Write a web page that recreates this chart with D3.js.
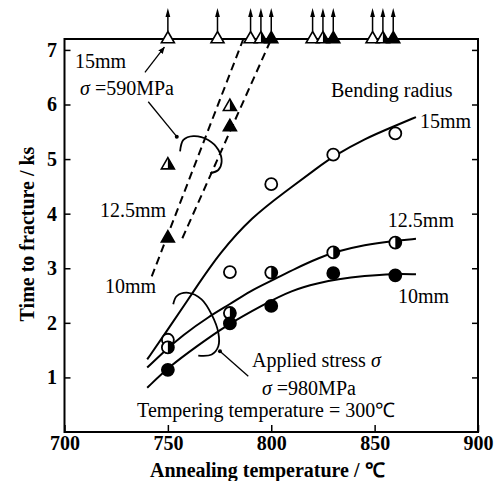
<!DOCTYPE html>
<meta charset="utf-8">

<!-- Load d3.js -->
<script src="https://d3js.org/d3.v7.min.js"></script>
<style>
    body { margin: 0; background: #fff; }
    text { font-family: "Liberation Serif", "Times New Roman", serif; fill: #000; }
</style>

<svg id="my_dataviz" width="501" height="481"></svg>
<script>

    // annealing temperatures of the 980 MPa tests
    var temps = [750, 780, 800, 830, 860];
    // time to fracture (ks), 980 MPa, by bending radius
    var open15 = [1.69, 2.93, 4.54, 5.08, 5.47];
    var half125 = [1.55, 2.18, 2.92, 3.29, 3.47];
    var filled10 = [1.14, 1.99, 2.31, 2.91, 2.87];

    // 590 MPa tests that broke inside the frame
    var temps590 = [750, 780];
    var half590 = [4.89, 5.96];
    var filled590 = [3.55, 5.59];

    // 590 MPa run-outs (no fracture), drawn on the top edge
    var runOpen = [750, 774, 790, 820, 849];
    var runHalf = [795, 825, 854];
    var runFilled = [800, 830, 859];

    // fitted curves, [temperature, ks]
    var curve15 = [[740, 1.33], [749, 1.82], [763, 2.61], [775, 3.28], [791, 3.95], [806, 4.38], [823, 4.86], [830, 5.05], [845, 5.37], [860, 5.61], [870, 5.77]];
    var curve125 = [[740, 1.18], [748, 1.47], [757, 1.77], [770, 2.12], [780, 2.34], [790, 2.59], [800, 2.77], [812, 3.0], [823, 3.19], [832, 3.31], [845, 3.43], [859, 3.5], [870, 3.54]];
    var curve10 = [[740, 0.81], [751, 1.21], [764, 1.57], [778, 1.95], [796, 2.33], [810, 2.6], [823, 2.73], [832, 2.8], [845, 2.86], [859, 2.9], [870, 2.89]];

    // dashed lines for 590 MPa
    var dashLeft = [[742.2, 2.85], [786.5, 7.2]];
    var dashRight = [[757, 3.55], [800, 7.2]];

    // brackets and leaders
    var bracketTop = [[755.9, 5.14], [757.5, 5.35], [762.3, 5.42], [769.5, 5.35], [774.4, 5.17], [776.0, 4.95], [774.4, 4.8], [770.4, 4.74]];
    var leaderTop = [[740.5, 6.05], [754.3, 5.41]];
    var bracketLow = [[752.6, 2.34], [754.3, 2.49], [759.9, 2.55], [766.3, 2.43], [771.2, 2.15], [774.4, 1.82], [774.4, 1.57], [771.2, 1.42], [764.7, 1.4]];
    var leaderLow = [[775.2, 1.48], [788.9, 1.02]];
    var arrow15 = [[738.9, 6.59], [748.3, 7.05]];

    var xTicks = [700, 750, 800, 850, 900];
    var yTicks = [1, 2, 3, 4, 5, 6, 7];

    // The svg
    var svg = d3.select("svg"),
        width = +svg.attr("width"),
        height = +svg.attr("height");

    var margin = { top: 39, right: 23, bottom: 49, left: 64.5 };

    var x = d3.scaleLinear().domain([700, 900]).range([margin.left, width - margin.right]);
    var y = d3.scaleLinear().domain([0, 7.2]).range([height - margin.bottom, margin.top]);

    var line = d3.line()
        .x(function (d) { return x(d[0]) })
        .y(function (d) { return y(d[1]) });

    // arrow head marker
    svg.append("defs").append("marker")
        .attr("id", "head")
        .attr("viewBox", "0 0 10 10")
        .attr("refX", 9).attr("refY", 5)
        .attr("markerWidth", 7).attr("markerHeight", 7)
        .attr("markerUnits", "userSpaceOnUse")
        .attr("orient", "auto")
        .append("path")
        .attr("d", "M0,1L10,5L0,9Z")
        .attr("fill", "#000");

    // axes
    svg.append("g")
        .attr("transform", "translate(0," + y(0) + ")")
        .call(d3.axisBottom(x).tickValues(xTicks).tickSizeInner(-7).tickSizeOuter(0).tickPadding(4))
        .call(function (g) { g.select(".domain").remove() })
        .attr("font-size", 20).attr("font-weight", "bold").attr("font-family", null)
        .selectAll("line").attr("stroke-width", 1.5);

    svg.append("g")
        .attr("transform", "translate(" + x(700) + ",0)")
        .call(d3.axisLeft(y).tickValues(yTicks).tickSizeInner(-6).tickSizeOuter(0).tickPadding(7.5).tickFormat(d3.format("d")))
        .call(function (g) { g.select(".domain").remove() })
        .attr("font-size", 20).attr("font-weight", "bold").attr("font-family", null)
        .selectAll("line").attr("stroke-width", 1.5);

    svg.append("g")
        .attr("transform", "translate(" + x(900) + ",0)")
        .call(d3.axisRight(y).tickValues(yTicks).tickSizeInner(-6).tickSizeOuter(0).tickFormat(""))
        .call(function (g) { g.select(".domain").remove() })
        .selectAll("line").attr("stroke-width", 1.5);

    // frame
    svg.append("rect")
        .attr("x", x(700)).attr("y", y(7.2))
        .attr("width", x(900) - x(700)).attr("height", y(0) - y(7.2))
        .attr("fill", "none").attr("stroke", "#000").attr("stroke-width", 2);

    // axis titles
    svg.append("text")
        .attr("x", (x(700) + x(900)) / 2 - 4).attr("y", 477)
        .attr("text-anchor", "middle")
        .attr("font-size", 20).attr("font-weight", "bold")
        .text("Annealing temperature / ℃");

    svg.append("text")
        .attr("transform", "translate(34," + 234 + ") rotate(-90)")
        .attr("text-anchor", "middle")
        .attr("font-size", 20).attr("font-weight", "bold")
        .text("Time to fracture / ks");

    // curves
    [curve15, curve125, curve10].forEach(function (c) {
        svg.append("path")
            .datum(c)
            .attr("fill", "none")
            .attr("stroke", "#000")
            .attr("stroke-width", 2)
            .attr("d", line.curve(d3.curveBasis));
    });

    // dashed 590 MPa lines
    [dashLeft, dashRight].forEach(function (c) {
        svg.append("path")
            .datum(c)
            .attr("fill", "none")
            .attr("stroke", "#000")
            .attr("stroke-width", 2)
            .attr("stroke-dasharray", "8,5")
            .attr("d", line.curve(d3.curveLinear));
    });

    // brackets and leader lines
    [bracketTop, bracketLow].forEach(function (c) {
        svg.append("path")
            .datum(c)
            .attr("fill", "none")
            .attr("stroke", "#000")
            .attr("stroke-width", 1.8)
            .attr("d", line.curve(d3.curveCatmullRom));
    });
    [leaderTop, leaderLow].forEach(function (c) {
        svg.append("path")
            .datum(c)
            .attr("fill", "none")
            .attr("stroke", "#000")
            .attr("stroke-width", 1.3)
            .attr("d", line.curve(d3.curveLinear));
    });
    svg.append("circle").attr("cx", x(leaderTop[1][0])).attr("cy", y(leaderTop[1][1])).attr("r", 2);
    svg.append("circle").attr("cx", x(leaderLow[0][0])).attr("cy", y(leaderLow[0][1])).attr("r", 2);
    svg.append("path")
        .datum(arrow15)
        .attr("fill", "none")
        .attr("stroke", "#000")
        .attr("stroke-width", 1.3)
        .attr("marker-end", "url(#head)")
        .attr("d", line.curve(d3.curveLinear));

    // markers
    var r = 6;
    var side = 13, th = side * Math.sqrt(3) / 2;
    var triFull = "M0," + (-2 * th / 3) + "L" + (side / 2) + "," + (th / 3) + "L" + (-side / 2) + "," + (th / 3) + "Z";
    var triRight = "M0," + (-2 * th / 3) + "L" + (side / 2) + "," + (th / 3) + "L0," + (th / 3) + "Z";
    var halfDisc = d3.arc()({ innerRadius: 0, outerRadius: r, startAngle: 0, endAngle: Math.PI });

    function circles(vals, kind) {
        var g = svg.append("g").selectAll("g")
            .data(vals)
            .enter()
            .append("g")
            .attr("transform", function (d, i) { return "translate(" + x(temps[i]) + "," + y(d) + ")" });
        g.append("circle")
            .attr("r", r)
            .attr("fill", kind == "filled" ? "#000" : "#fff")
            .attr("stroke", "#000")
            .attr("stroke-width", 1.8);
        if (kind == "half") g.append("path").attr("d", halfDisc).attr("fill", "#000");
    }
    circles(open15, "open");
    circles(half125, "half");
    circles(filled10, "filled");

    function triangles(points, kind) {
        var g = svg.append("g").selectAll("g")
            .data(points)
            .enter()
            .append("g")
            .attr("transform", function (d) { return "translate(" + x(d[0]) + "," + y(d[1]) + ")" });
        g.append("path")
            .attr("d", triFull)
            .attr("fill", kind == "filled" ? "#000" : "#fff")
            .attr("stroke", "#000")
            .attr("stroke-width", 1.6)
            .attr("stroke-linejoin", "miter");
        if (kind == "half") g.append("path").attr("d", triRight).attr("fill", "#000");
        return g;
    }
    triangles(temps590.map(function (t, i) { return [t, half590[i]] }), "half");
    triangles(temps590.map(function (t, i) { return [t, filled590[i]] }), "filled");

    // run-outs on the top edge, each with an upward arrow
    [[runOpen, "open"], [runHalf, "half"], [runFilled, "filled"]].forEach(function (s) {
        var g = triangles(s[0].map(function (t) { return [t, 7.2] }), s[1]);
        g.append("line")
            .attr("x1", 0).attr("x2", 0)
            .attr("y1", -2 * th / 3).attr("y2", -22)
            .attr("stroke", "#000").attr("stroke-width", 1.5);
        g.append("path")
            .attr("d", "M0,-31L2.4,-22L-2.4,-22Z")
            .attr("fill", "#000");
    });

    // annotations
    function label(tx, ty, parts) {
        var el = svg.append("text")
            .attr("x", x(tx)).attr("y", y(ty))
            .attr("font-size", 20);
        parts.forEach(function (p) {
            el.append("tspan").attr("font-style", p[1] ? "italic" : null).text(p[0]);
        });
    }
    label(705.1, 6.67, [["15mm"]]);
    label(707.5, 6.17, [["σ", 1], [" =590MPa"]]);
    label(717.2, 3.93, [["12.5mm"]]);
    label(719.6, 2.55, [["10mm"]]);
    label(828.9, 6.14, [["Bending radius"]]);
    label(871.9, 5.57, [["15mm"]]);
    label(856.4, 3.76, [["12.5mm"]]);
    label(861.3, 2.37, [["10mm"]]);
    label(790.7, 1.2, [["Applied stress  "], ["σ", 1]]);
    label(795.5, 0.67, [["σ", 1], [" =980MPa"]]);
    label(735.1, 0.27, [["Tempering temperature = 300℃"]]);

</script>
